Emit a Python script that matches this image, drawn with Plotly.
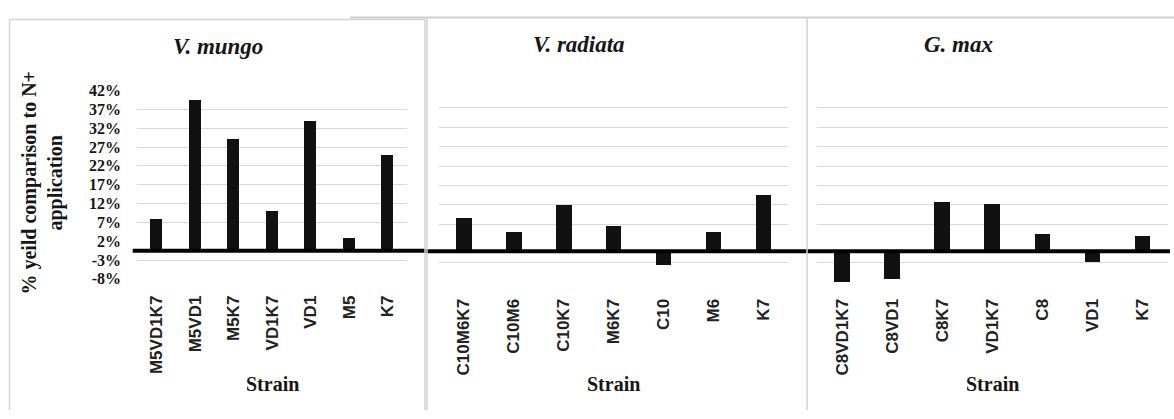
import plotly.graph_objects as go

W, H = 1174, 419

# Yield change (%) relative to N+ application, per inoculant strain
mungo_strains = ["M5VD1K7", "M5VD1", "M5K7", "VD1K7", "VD1", "M5", "K7"]
mungo_yield = [8.0, 39.7, 29.3, 10.1, 34.1, 3.0, 25.0]

radiata_strains = ["C10M6K7", "C10M6", "C10K7", "M6K7", "C10", "M6", "K7"]
radiata_yield = [8.7, 5.0, 12.0, 6.5, -3.5, 5.0, 14.7]

max_strains = ["C8VD1K7", "C8VD1", "C8K7", "VD1K7", "C8", "VD1", "K7"]
max_yield = [-8.0, -7.0, 12.8, 12.2, 4.6, -2.6, 4.0]

crop_titles = ["V. mungo", "V. radiata", "G. max"]

y_ticks = [-8, -3, 2, 7, 12, 17, 22, 27, 32, 37, 42]
y_tick_labels = [f"{v}%" for v in y_ticks]
grid_values = [v for v in y_ticks if v != 2]
y_range = [-8, 42]


def px(x):
    return x / W


def py(y):
    return 1 - y / H


SERIF = "Liberation Serif, Times New Roman, serif"
SANS = "Liberation Sans, Arial, sans-serif"
INK = "#161616"
GRID = "#d9d9d9"
FRAME = "#d2d2d2"
CLEAR = "rgba(0,0,0,0)"

panels = [
    dict(strains=mungo_strains, values=mungo_yield, title=crop_titles[0],
         xdom=(137.3, 407.0), ydom=(282.3, 86.0), bw=0.31,
         title_xy=(218, 40), strain_x=272, line_x=(132.7, 425.0), line_off=-2),
    dict(strains=radiata_strains, values=radiata_yield, title=crop_titles[1],
         xdom=(438.5, 788.0), ydom=(285.7, 84.0), bw=0.31,
         title_xy=(579, 38), strain_x=613, line_x=(425.0, 807.0), line_off=0),
    dict(strains=max_strains, values=max_yield, title=crop_titles[2],
         xdom=(817.3, 1167.7), ydom=(285.7, 84.0), bw=0.31,
         title_xy=(958, 38), strain_x=992, line_x=(807.0, 1170.0), line_off=0),
]

fig = go.Figure()
layout = dict(
    width=W, height=H,
    margin=dict(l=0, r=0, t=0, b=0),
    paper_bgcolor="white", plot_bgcolor=CLEAR,
    showlegend=False, bargap=0,
)
annotations = []
shapes = []

for i, p in enumerate(panels, start=1):
    xa = "x" if i == 1 else f"x{i}"
    ya = "y" if i == 1 else f"y{i}"
    gy = f"y{i + 3}"

    fig.add_trace(go.Bar(
        x=p["strains"], y=p["values"], xaxis=xa, yaxis=ya,
        width=p["bw"], marker=dict(color="#111111", line=dict(width=0)),
        hoverinfo="x+y",
    ))
    # empty trace so the gridline axis gets its own overlaid subplot
    fig.add_trace(go.Scatter(x=[], y=[], xaxis=xa, yaxis=gy, showlegend=False))

    layout[f"xaxis{i if i > 1 else ''}"] = dict(
        domain=[px(p["xdom"][0]), px(p["xdom"][1])],
        anchor=ya, type="category", range=[-0.5, len(p["strains"]) - 0.5],
        showgrid=False, showline=False, zeroline=False,
        ticks="outside", ticklen=9, tickcolor=CLEAR,
        tickangle=-90,
        tickfont=dict(family=SANS, size=17, color="#222222", weight="bold"),
        fixedrange=True,
    )
    layout[f"yaxis{i if i > 1 else ''}"] = dict(
        domain=[py(p["ydom"][0]), py(p["ydom"][1])],
        anchor=xa, range=y_range,
        tickmode="array", tickvals=y_ticks, ticktext=y_tick_labels,
        showticklabels=(i == 1), showgrid=False, zeroline=False,
        showline=False, ticks="outside", ticklen=12, tickcolor=CLEAR,
        tickfont=dict(family=SERIF, size=16, color=INK, weight="bold"),
        fixedrange=True,
    )
    layout[f"yaxis{i + 3}"] = dict(
        overlaying=ya, anchor=xa, range=y_range,
        tickmode="array", tickvals=grid_values,
        showticklabels=False, showgrid=True, gridcolor=GRID, gridwidth=1,
        zeroline=False, showline=False, ticks="", fixedrange=True,
    )

    # heavy baseline at 0 %
    shapes.append(dict(
        type="line", xref="paper", yref=ya,
        ysizemode="pixel", yanchor=0,
        x0=px(p["line_x"][0]), x1=px(p["line_x"][1]),
        y0=p["line_off"], y1=p["line_off"],
        line=dict(color="#000000", width=4), layer="above",
    ))

    annotations.append(dict(
        text=p["title"], xref="paper", yref="paper",
        x=px(p["title_xy"][0]), y=py(p["title_xy"][1]),
        xanchor="center", yanchor="middle", showarrow=False,
        font=dict(family=SERIF, size=23, color=INK, weight="bold", style="italic"),
    ))
    annotations.append(dict(
        text="Strain", xref="paper", yref="paper",
        x=px(p["strain_x"]), y=py(392),
        xanchor="center", yanchor="middle", showarrow=False,
        font=dict(family=SERIF, size=20, color=INK, weight="bold"),
    ))

annotations.append(dict(
    text="% yeild comparison to N+<br>application",
    xref="paper", yref="paper", x=px(43), y=py(182),
    xanchor="center", yanchor="middle", showarrow=False, textangle=-90,
    font=dict(family=SERIF, size=20, color=INK, weight="bold"),
))

# panel frames
frame = dict(color=FRAME, width=1.5)
shapes += [
    dict(type="line", xref="paper", yref="paper", x0=px(9.5), x1=px(9.5),
         y0=py(12), y1=0, line=frame),
    dict(type="line", xref="paper", yref="paper", x0=px(9.5), x1=px(425),
         y0=py(12), y1=py(12), line=frame),
    dict(type="line", xref="paper", yref="paper", x0=px(425), x1=px(425),
         y0=py(12), y1=0, line=frame),
    dict(type="line", xref="paper", yref="paper", x0=px(350), x1=1,
         y0=py(10), y1=py(10), line=dict(color="#cfcfcf", width=2)),
    dict(type="line", xref="paper", yref="paper", x0=px(427), x1=px(427),
         y0=py(10), y1=0, line=frame),
    dict(type="line", xref="paper", yref="paper", x0=px(807), x1=px(807),
         y0=py(10), y1=0, line=frame),
]

layout["annotations"] = annotations
layout["shapes"] = shapes
fig.update_layout(**layout)

fig.write_html("out.html")
